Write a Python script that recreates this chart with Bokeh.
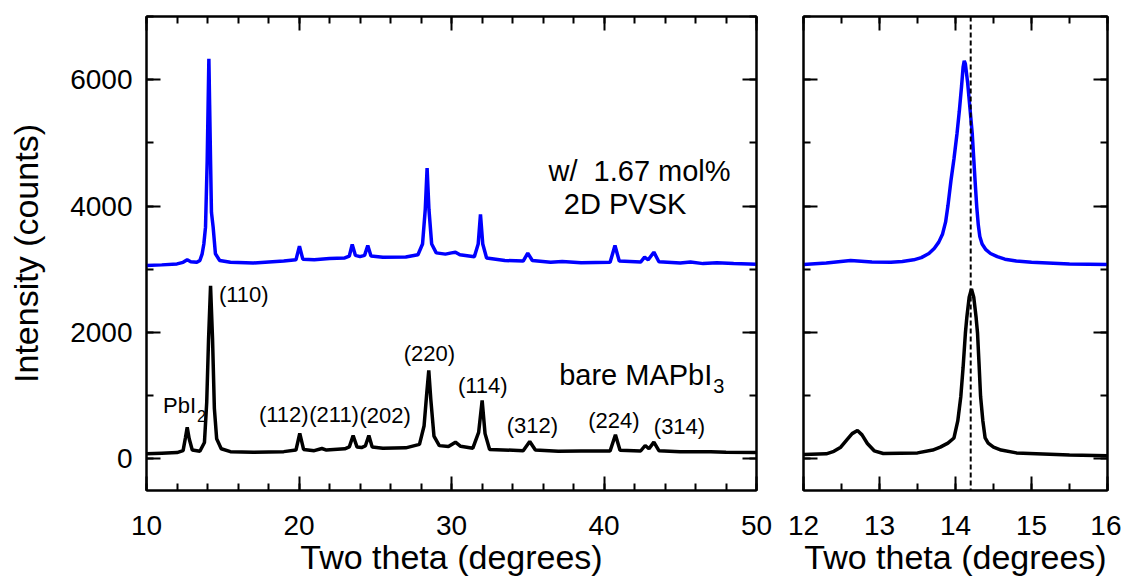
from bokeh.plotting import figure
from bokeh.layouts import row
from bokeh.models import (ColumnDataSource, LinearAxis, SingleIntervalTicker, Span,
                          Range1d, CustomJSTickFormatter)
from bokeh.core.properties import value
from bokeh.embed import file_html
from bokeh.resources import INLINE

FONT = "Liberation Sans"

# ---------------- data ----------------
# wide scan, 10-50 degrees, film with 2D PVSK (blue)
wide_blue_x = [10.0, 11.0, 12.0, 12.4, 12.67, 12.9, 13.3, 13.5, 13.65, 13.76, 13.87, 13.98,
               14.04, 14.09, 14.14, 14.2, 14.26, 14.37, 14.52, 14.8, 15.5, 17.0, 19.0, 19.8,
               20.03, 20.25, 21.0, 22.0, 23.0, 23.3, 23.49, 23.7, 24.0, 24.3, 24.51, 24.72,
               25.5, 27.0, 27.8, 28.1, 28.28, 28.4, 28.52, 28.7, 29.0, 29.6, 30.0, 30.26,
               30.55, 31.5, 31.75, 31.9, 32.05, 32.3, 33.5, 34.7, 35.0, 35.3, 36.5, 37.26,
               38.5, 40.4, 40.72, 41.0, 42.4, 42.66, 42.9, 43.27, 43.6, 45.0, 45.67, 46.5,
               47.4, 48.5, 50.0]
wide_blue_y = [3060, 3070, 3085, 3110, 3150, 3120, 3110, 3140, 3245, 3400, 3667, 4721,
               5600, 6330, 5600, 4721, 3900, 3667, 3245, 3140, 3110, 3100, 3130, 3150,
               3366, 3160, 3150, 3170, 3180, 3210, 3392, 3220, 3200, 3220, 3376, 3210,
               3190, 3195, 3230, 3400, 3950, 4600, 3950, 3400, 3260, 3240, 3260, 3271,
               3230, 3200, 3400, 3870, 3400, 3180, 3140, 3130, 3255, 3140, 3112, 3125,
               3105, 3110, 3376, 3130, 3115, 3192, 3150, 3271, 3120, 3100, 3115, 3090,
               3105, 3090, 3080]

# wide scan, bare MAPbI3 (black)
wide_black_x = [10.0, 11.0, 12.0, 12.4, 12.55, 12.67, 12.8, 13.0, 13.5, 13.8, 13.95, 14.07,
                14.2, 14.33, 14.45, 14.6, 14.9, 15.5, 17.0, 19.0, 19.8, 20.05, 20.3, 21.0,
                21.5, 21.8, 23.0, 23.3, 23.55, 23.8, 24.1, 24.35, 24.58, 24.8, 25.5, 27.0,
                27.9, 28.2, 28.38, 28.51, 28.64, 28.85, 29.2, 29.8, 30.26, 30.6, 31.4, 31.78,
                32.01, 32.2, 32.5, 34.7, 35.13, 35.5, 37.0, 38.5, 40.4, 40.75, 41.05, 42.4,
                42.7, 42.95, 43.27, 43.6, 45.0, 47.0, 48.0, 50.0]
wide_black_y = [80, 90, 100, 130, 330, 500, 320, 140, 120, 260, 900, 1900,
                2740, 1900, 800, 320, 160, 115, 105, 115, 140, 405, 150, 130,
                165, 140, 160, 190, 370, 190, 180, 205, 370, 190, 170, 175,
                230, 520, 1050, 1399, 950, 360, 210, 195, 265, 200, 170, 420,
                924, 400, 150, 130, 275, 140, 120, 125, 125, 381, 135, 125,
                212, 160, 265, 130, 115, 115, 105, 100]

# zoomed scan, 12-16 degrees, film with 2D PVSK (blue)
zoom_blue_x = [12.0, 12.3, 12.62, 12.9, 13.15, 13.3, 13.45, 13.55, 13.65, 13.72, 13.78,
               13.83, 13.87, 13.9, 13.94, 13.98, 14.02, 14.05, 14.08, 14.1, 14.115, 14.13,
               14.16, 14.19, 14.22, 14.24, 14.26, 14.28, 14.3, 14.32, 14.35, 14.4, 14.46,
               14.55, 14.65, 14.8, 15.0, 15.5, 16.0]
zoom_blue_y = [3076, 3100, 3140, 3115, 3112, 3125, 3150, 3185, 3250, 3330, 3430,
               3560, 3750, 4000, 4400, 4750, 5150, 5500, 5900, 6200, 6300, 6250,
               5950, 5550, 5150, 4750, 4350, 3980, 3700, 3520, 3400, 3310, 3250,
               3200, 3160, 3130, 3110, 3085, 3076]

# zoomed scan, bare MAPbI3 (black)
zoom_black_x = [12.0, 12.3, 12.4, 12.49, 12.57, 12.64, 12.71, 12.77, 12.84, 12.93, 13.05,
                13.5, 13.7, 13.8, 13.9, 13.98, 14.03, 14.07, 14.1, 14.13, 14.15, 14.18,
                14.21, 14.24, 14.27, 14.29, 14.31, 14.33, 14.36, 14.39, 14.43, 14.5, 14.6,
                14.8, 15.5, 16.0]
zoom_black_y = [70, 80, 120, 186, 302, 400, 448, 380, 244, 128, 85,
                95, 140, 186, 250, 331, 600, 988, 1450, 1988, 2250, 2560,
                2690, 2560, 2250, 1988, 1500, 988, 600, 331, 250, 186, 140,
                95, 60, 50]

# reference position of the bare (110) peak (dashed line)
ref_peak_x = 14.2

# peak labels in the wide panel
main_peak_label = "(110)"
main_peak_label_x = 14.75
main_peak_label_y = 2600
peak_labels = ["(112)", "(211)", "(202)", "(220)", "(114)", "(312)", "(224)", "(314)"]
peak_label_x = [19.0, 22.3, 25.65, 28.55, 32.05, 35.3, 40.65, 44.95]
peak_label_y = [700, 700, 690, 1660, 1155, 522, 600, 520]

sample_labels = ["w/\u00a0 1.67 mol%", "2D PVSK", "bare MAPbI"]
sample_label_x = [48.3, 45.4, 47.1]
sample_label_y = [4560, 4030, 1330]
sample_sub = ["", "", "3"]

impurity_label = "PbI"
impurity_sub = "2"
impurity_x = 13.25
impurity_y = 840

wide_x_range = (10, 50)
zoom_x_range = (12, 16)
y_range = (-500, 7000)

# ---------------- helpers ----------------
BLANK = CustomJSTickFormatter(code="return ''")


def style_axis(ax, labelled, font_size="28px"):
    ax.axis_line_width = 2
    ax.axis_line_color = "black"
    ax.major_tick_line_width = 2
    ax.minor_tick_line_width = 2
    ax.major_tick_in = 14
    ax.major_tick_out = 0
    ax.minor_tick_in = 7
    ax.minor_tick_out = 0
    ax.major_label_text_font = FONT
    ax.major_label_text_color = "black"
    ax.axis_label_text_font = FONT
    ax.axis_label_text_font_style = "normal"
    ax.axis_label_text_color = "black"
    ax.axis_label_text_font_size = "34px"
    if labelled:
        ax.major_label_text_font_size = font_size
    else:
        ax.formatter = BLANK
        ax.major_label_text_font_size = "2px"
        ax.major_label_standoff = 0


def make_panel(xr, xtick, ylabels, **kw):
    p = figure(x_range=Range1d(*xr), y_range=Range1d(*y_range),
               output_backend="svg", toolbar_location=None,
               background_fill_color="white", border_fill_color="white",
               **kw)
    p.grid.visible = False
    p.outline_line_color = "black"
    p.outline_line_width = 2
    xt = SingleIntervalTicker(interval=xtick[0], num_minor_ticks=xtick[1])
    yt = SingleIntervalTicker(interval=2000, num_minor_ticks=2)
    p.xaxis.ticker = xt
    p.yaxis.ticker = yt
    for ax in p.xaxis:
        style_axis(ax, True)
        ax.major_label_standoff = 25
        ax.axis_label = "Two theta (degrees)"
        ax.axis_label_standoff = 0
    for ax in p.yaxis:
        style_axis(ax, ylabels)
        if ylabels:
            ax.major_label_standoff = 14
            ax.axis_label = "Intensity (counts)"
            ax.axis_label_standoff = 22
    top = LinearAxis(ticker=xt)
    style_axis(top, False)
    p.add_layout(top, "above")
    right = LinearAxis(ticker=yt)
    style_axis(right, False)
    p.add_layout(right, "right")
    return p


# ---------------- wide panel ----------------
p1 = make_panel(wide_x_range, (10, 5), True,
                frame_width=610, frame_height=474,
                min_border_left=146, min_border_right=20,
                min_border_top=16, min_border_bottom=80)

p1.line(wide_blue_x, wide_blue_y, color="#0000ff", line_width=3.5)
p1.line(wide_black_x, wide_black_y, color="black", line_width=3.5)

lbl = ColumnDataSource(dict(x=peak_label_x, y=peak_label_y, t=peak_labels))
p1.text(x="x", y="y", text="t", source=lbl, text_align="center", text_baseline="middle",
        text_font=value(FONT), text_font_size="22px", text_color="black")
p1.text(x=[main_peak_label_x], y=[main_peak_label_y], text=[main_peak_label],
        text_align="left", text_baseline="middle",
        text_font=value(FONT), text_font_size="22px", text_color="black")
p1.text(x=[impurity_x], y=[impurity_y], text=[impurity_label], text_align="right",
        text_baseline="middle", text_font=value(FONT), text_font_size="22px", text_color="black")
p1.text(x=[impurity_x], y=[impurity_y], text=[impurity_sub], text_align="left",
        text_baseline="middle", y_offset=10, x_offset=1,
        text_font=value(FONT), text_font_size="16px", text_color="black")

p1.text(x=sample_label_x, y=sample_label_y, text=sample_labels, text_align="right",
        text_baseline="middle", text_font=value(FONT), text_font_size="29px", text_color="black")
p1.text(x=sample_label_x, y=sample_label_y, text=sample_sub, text_align="left",
        text_baseline="middle", y_offset=11, x_offset=1,
        text_font=value(FONT), text_font_size="20px", text_color="black")

# ---------------- zoom panel ----------------
p2 = make_panel(zoom_x_range, (1, 2), False,
                frame_width=304, frame_height=474,
                min_border_left=27, min_border_right=14,
                min_border_top=16, min_border_bottom=80)
p2.line(zoom_blue_x, zoom_blue_y, color="#0000ff", line_width=3.5)
p2.line(zoom_black_x, zoom_black_y, color="black", line_width=3.5)
p2.add_layout(Span(location=ref_peak_x, dimension="height", line_color="black",
                   line_width=2, line_dash="5 3"))

layout = row(p1, p2)
open("out.html", "w").write(file_html(layout, INLINE))
